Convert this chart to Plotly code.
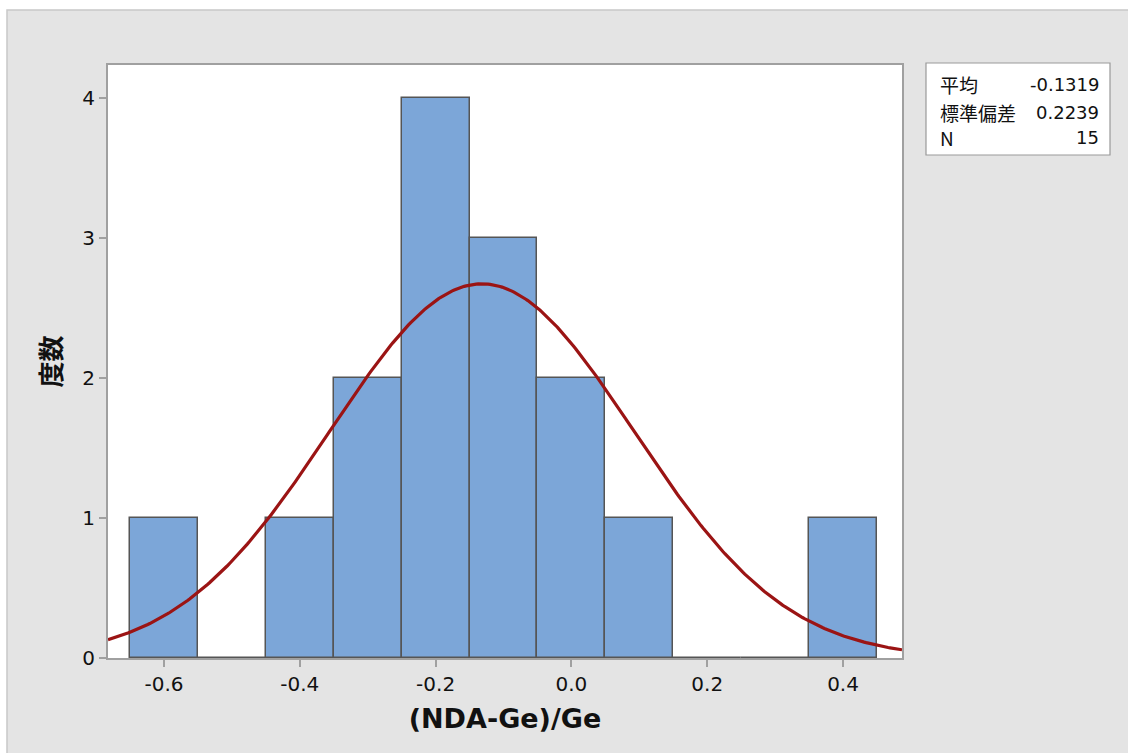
import numpy as np
import plotly.graph_objects as go

# Data
bin_centers = [-0.6, -0.5, -0.4, -0.3, -0.2, -0.1, 0.0, 0.1, 0.2, 0.3, 0.4]
counts = [1, 0, 1, 2, 4, 3, 2, 1, 0, 0, 1]
bin_width = 0.1
mean_val = -0.1319
sd_val = 0.2239
n_val = 15
stat_labels = ["平均", "標準偏差", "N"]
stat_values = ["-0.1319", "0.2239", "15"]
x_ticks = [-0.6, -0.4, -0.2, 0.0, 0.2, 0.4]
x_ticktext = ["-0.6", "-0.4", "-0.2", "0.0", "0.2", "0.4"]
y_ticks = [0, 1, 2, 3, 4]

x_range = [-0.6824, 0.4868]
y_range = [0, 4.236]

# fitted normal curve from summary stats
xs = np.linspace(x_range[0], x_range[1], 400)
ys = n_val * bin_width / (sd_val * np.sqrt(2 * np.pi)) * np.exp(-0.5 * ((xs - mean_val) / sd_val) ** 2)

fig = go.Figure()
fig.add_trace(go.Bar(
    x=bin_centers, y=counts, width=bin_width,
    marker=dict(color="#7ca6d8", line=dict(color="#555555", width=1.5)),
    showlegend=False, hoverinfo="x+y",
))
fig.add_trace(go.Scatter(
    x=xs, y=ys, mode="lines",
    line=dict(color="#9b1414", width=3.2),
    showlegend=False, cliponaxis=True,
))

L, R, T, B = 108, 226, 65, 95
W, H = 1128, 753
pw, ph = W - L - R, H - T - B

def px(xp):
    return (xp - L) / pw

def py(yp):
    return (H - B - yp) / ph

shapes = [
    dict(type="rect", xref="paper", yref="paper", x0=px(7), x1=px(1140), y0=py(770), y1=py(10),
         fillcolor="#e4e4e4", line=dict(color="#c8c8c8", width=1.5), layer="below"),
    dict(type="rect", xref="paper", yref="paper", x0=0, x1=1, y0=0, y1=1,
         fillcolor="white", line=dict(width=0), layer="below"),
    dict(type="rect", xref="paper", yref="paper", x0=px(926), x1=px(1110), y0=py(155), y1=py(63),
         fillcolor="white", line=dict(color="#999999", width=1.2), layer="above"),
]

annotations = []
row_y = [85, 112, 138]
for lab, val, yy in zip(stat_labels, stat_values, row_y):
    annotations.append(dict(xref="paper", yref="paper", x=px(938), y=py(yy), text=lab,
                            showarrow=False, xanchor="left", yanchor="middle",
                            font=dict(family="Noto Sans CJK JP, DejaVu Sans", size=19, color="#111111")))
    annotations.append(dict(xref="paper", yref="paper", x=px(1101), y=py(yy), text=val,
                            showarrow=False, xanchor="right", yanchor="middle",
                            font=dict(family="DejaVu Sans", size=18, color="#111111")))

fig.update_layout(
    width=W, height=H,
    margin=dict(l=L, r=R, t=T, b=B, pad=0),
    paper_bgcolor="white",
    plot_bgcolor="white",
    bargap=0,
    shapes=shapes,
    annotations=annotations,
    xaxis=dict(
        range=x_range, tickvals=x_ticks, ticktext=x_ticktext,
        ticks="outside", ticklen=7, tickcolor="#a0a0a0", tickwidth=1.5,
        showline=True, linecolor="#a0a0a0", linewidth=2, mirror=True,
        showgrid=False, zeroline=False,
        tickfont=dict(family="DejaVu Sans", size=20, color="#111111"),
        title=dict(text="<b>(NDA-Ge)/Ge</b>", standoff=14,
                   font=dict(family="DejaVu Sans", size=27, color="#111111")),
    ),
    yaxis=dict(
        range=y_range, tickvals=y_ticks,
        ticks="outside", ticklen=7, tickcolor="#a0a0a0", tickwidth=1.5,
        showline=True, linecolor="#a0a0a0", linewidth=2, mirror=True,
        showgrid=False, zeroline=False,
        tickfont=dict(family="DejaVu Sans", size=20, color="#111111"),
        title=dict(text="<b>度数</b>", standoff=13,
                   font=dict(family="Noto Sans CJK JP", size=26, color="#111111")),
    ),
)

fig.write_html("out.html")
